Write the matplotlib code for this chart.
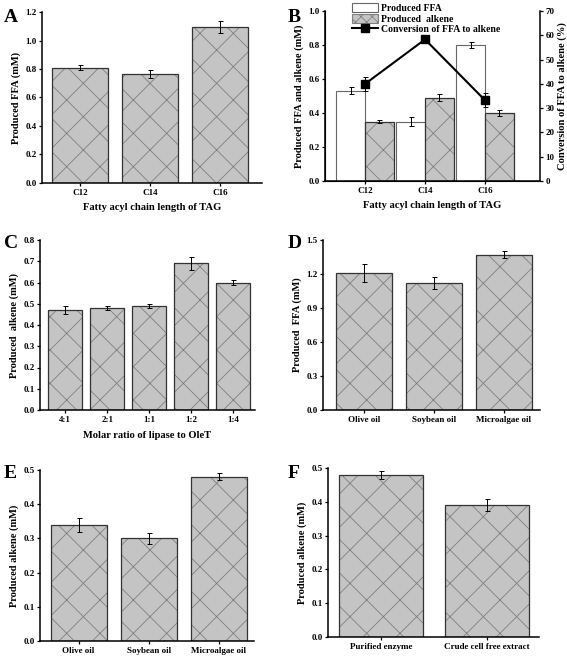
import numpy as np
import matplotlib
matplotlib.use("Agg")
import matplotlib.pyplot as plt
from matplotlib.lines import Line2D
from matplotlib.patches import Patch

plt.rcParams["font.family"] = "Liberation Serif"
plt.rcParams["font.weight"] = "bold"
plt.rcParams["axes.labelweight"] = "bold"
plt.rcParams["hatch.linewidth"] = 0.6

# ---- data ----
chain_labels = ["C12", "C14", "C16"]
a_ffa = [0.81, 0.765, 1.095]
a_err = [0.02, 0.03, 0.04]

b_ffa = [0.53, 0.35, 0.80]
b_ffa_err = [0.02, 0.025, 0.015]
b_alkene = [0.35, 0.49, 0.40]
b_alkene_err = [0.01, 0.02, 0.015]
b_conv = [40.0, 58.3, 33.3]
b_conv_err = [3.0, 1.0, 3.0]

ratio_labels = ["4:1", "2:1", "1:1", "1:2", "1:4"]
c_alkene = [0.47, 0.48, 0.49, 0.69, 0.60]
c_err = [0.02, 0.01, 0.01, 0.03, 0.01]

oil_labels = ["Olive oil", "Soybean oil", "Microalgae oil"]
d_ffa = [1.21, 1.12, 1.37]
d_err = [0.08, 0.05, 0.03]

e_alkene = [0.34, 0.30, 0.48]
e_err = [0.02, 0.015, 0.01]

enzyme_labels = ["Purified enzyme", "Crude cell free extract"]
f_alkene = [0.48, 0.39]
f_err = [0.012, 0.018]

W, H = 567, 657
fig = plt.figure(figsize=(W / 100, H / 100), dpi=100)

TICK_FS = 6.5
LAB_FS = 7.6
FILL = "#c4c4c4"
HATCH_C = "#808080"


def make_ax(l, r, t, b):
    ax = fig.add_axes([l / W, 1 - b / H, (r - l) / W, (b - t) / H])
    for s in ["top", "right"]:
        ax.spines[s].set_visible(False)
    for s in ["left", "bottom"]:
        ax.spines[s].set_linewidth(1.1)
    ax.tick_params(labelsize=TICK_FS, width=0.9, length=2.5, pad=1.5)
    return ax


def hatched_bars(ax, x, vals, errs, width):
    ax.bar(x, vals, width, color=FILL, edgecolor=HATCH_C, hatch="x", linewidth=0)
    ax.bar(x, vals, width, fill=False, edgecolor="#333333", linewidth=0.9)
    ax.errorbar(x, vals, yerr=errs, fmt="none", ecolor="black", elinewidth=0.7,
                capsize=1.8, capthick=0.7)


def simple_panel(rect, labels, vals, errs, xlim, ylim, yticks, ylabel, xlabel=None,
                 width=0.8, fmt="{:.1f}"):
    ax = make_ax(*rect)
    x = np.arange(len(labels))
    hatched_bars(ax, x, vals, errs, width)
    ax.set_xlim(*xlim)
    ax.set_ylim(*ylim)
    ax.set_yticks(yticks)
    ax.set_yticklabels([fmt.format(v) for v in yticks])
    ax.set_xticks(x)
    ax.set_xticklabels(labels)
    ax.set_ylabel(ylabel, fontsize=LAB_FS, labelpad=3)
    if xlabel:
        ax.set_xlabel(xlabel, fontsize=LAB_FS, labelpad=5)
    return ax


# A
simple_panel((42, 262, 12, 183), chain_labels, a_ffa, a_err, (-0.54, 2.6), (0, 1.2),
             np.arange(0, 1.21, 0.2), "Produced FFA (mM)", "Fatty acyl chain length of TAG")

# B
axb = make_ax(325, 540, 11, 181)
xb = np.arange(3)
bw = 0.48
axb.bar(xb - bw / 2, b_ffa, bw, color="white", edgecolor="#666666", linewidth=0.8)
axb.errorbar(xb - bw / 2, b_ffa, yerr=b_ffa_err, fmt="none", ecolor="black",
             elinewidth=0.7, capsize=1.8, capthick=0.7)
hatched_bars(axb, xb + bw / 2, b_alkene, b_alkene_err, bw)
axb.set_xlim(-0.67, 2.92)
axb.set_ylim(0, 1.0)
axb.set_yticks(np.arange(0, 1.01, 0.2))
axb.set_yticklabels(["{:.1f}".format(v) for v in np.arange(0, 1.01, 0.2)])
axb.set_xticks(xb)
axb.set_xticklabels(chain_labels)
axb.set_ylabel("Produced FFA and alkene (mM)", fontsize=LAB_FS, labelpad=3)
axb.set_xlabel("Fatty acyl chain length of TAG", fontsize=LAB_FS, labelpad=5)
axr = axb.twinx()
axr.spines["top"].set_visible(False)
axr.spines["right"].set_linewidth(1.1)
axr.plot(xb, b_conv, color="black", linewidth=1.5, marker="s", markersize=6)
axr.errorbar(xb, b_conv, yerr=b_conv_err, fmt="none", ecolor="black",
             elinewidth=0.7, capsize=1.8, capthick=0.7)
axr.set_ylim(0, 70)
axr.set_yticks(np.arange(0, 71, 10))
axr.tick_params(labelsize=TICK_FS, width=0.9, length=2.5, pad=1.5)
axr.set_ylabel("Conversion of FFA to alkene (%)", fontsize=LAB_FS, labelpad=2)
handles = [Patch(facecolor="white", edgecolor="#666666", linewidth=0.8),
           Patch(facecolor=FILL, edgecolor=HATCH_C, hatch="xxx", linewidth=0.8),
           Line2D([], [], color="black", linewidth=1.5, marker="s", markersize=5.5)]
axr.legend(handles, ["Produced FFA", "Produced  alkene", "Conversion of FFA to alkene"],
           loc="upper left", bbox_to_anchor=(0.1, 1.08), frameon=False,
           fontsize=7, handlelength=2.6, handleheight=1.0,
           labelspacing=0.1, borderpad=0.1, handletextpad=0.3)

# C
simple_panel((40, 255, 240, 410), ratio_labels, c_alkene, c_err, (-0.6, 4.52), (0, 0.8),
             np.arange(0, 0.81, 0.1), "Produced  alkene (mM)", "Molar ratio of lipase to OleT",
             width=0.81)

# D
simple_panel((323, 540, 240, 410), oil_labels, d_ffa, d_err, (-0.59, 2.52), (0, 1.5),
             np.arange(0, 1.51, 0.3), "Produced  FFA (mM)")

# E
simple_panel((40, 254, 470, 641), oil_labels, e_alkene, e_err, (-0.55, 2.5), (0, 0.5),
             np.arange(0, 0.51, 0.1), "Produced alkene (mM)")

# F
simple_panel((328, 539, 468, 637), enzyme_labels, f_alkene, f_err, (-0.5, 1.49), (0, 0.5),
             np.arange(0, 0.51, 0.1), "Produced alkene (mM)", width=0.79)

# panel letters
for letter, px, py in [("A", 4, 22), ("B", 288, 22), ("C", 4, 248),
                       ("D", 288, 248), ("E", 4, 478), ("F", 288, 478)]:
    fig.text(px / W, 1 - py / H, letter, fontsize=14, fontweight="bold")

fig.savefig("out.png", dpi=100)
